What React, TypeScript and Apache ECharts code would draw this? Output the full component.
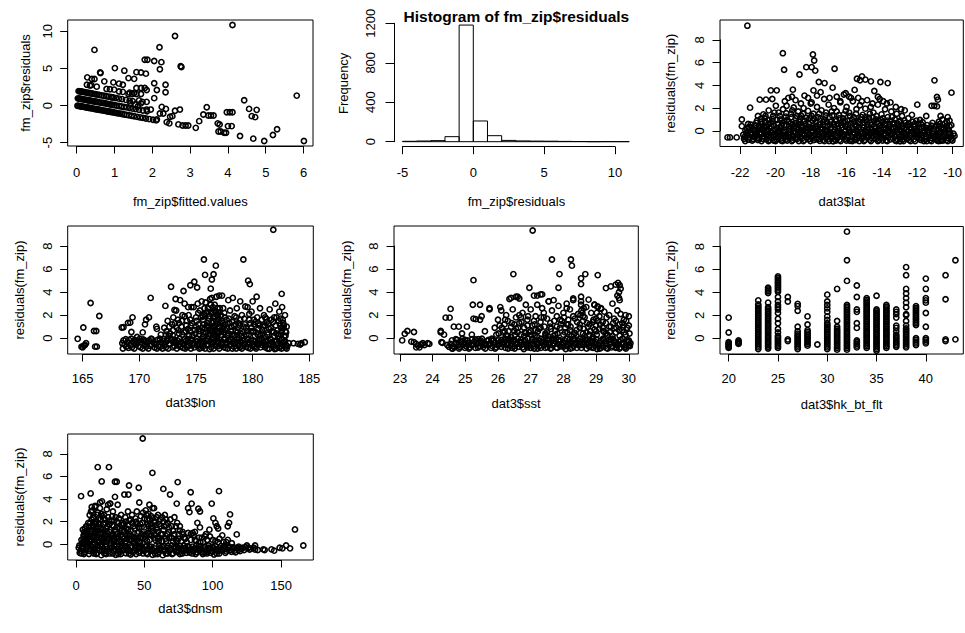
import React, { useEffect, useRef } from "react";
import * as echarts from "echarts";

// ---------- fm_zip$fitted.values vs fm_zip$residuals ----------
const fitBandZero: number[][] = [
  [0.02,-0.02],[0.05,-0.05],[0.08,-0.08],[0.1,-0.1],[0.13,-0.12],[0.16,-0.15],[0.19,-0.18],[0.22,-0.21],[0.25,-0.24],
  [0.28,-0.27],[0.31,-0.29],[0.34,-0.32],[0.37,-0.35],[0.4,-0.38],[0.44,-0.42],[0.48,-0.46],[0.52,-0.49],[0.56,-0.53],
  [0.6,-0.57],[0.64,-0.61],[0.68,-0.65],[0.72,-0.68],[0.76,-0.72],[0.8,-0.76],[0.84,-0.8],[0.88,-0.84],[0.92,-0.87],
  [0.96,-0.91],[1.0,-0.95],[1.05,-1.0],[1.1,-1.05],[1.15,-1.09],[1.2,-1.14],[1.26,-1.2],[1.32,-1.25],[1.38,-1.31],
  [1.45,-1.38],[1.52,-1.44],[1.6,-1.52],[1.68,-1.6],[1.75,-1.66],[1.83,-1.74],[1.92,-1.82],[2.02,-1.92],[2.1,-2.0]
];
const fitBandOne: number[][] = [
  [0.03,0.97],[0.06,0.94],[0.09,0.91],[0.12,0.89],[0.15,0.86],[0.18,0.83],[0.21,0.8],[0.24,0.77],[0.27,0.74],[0.3,0.72],
  [0.33,0.69],[0.36,0.66],[0.4,0.62],[0.44,0.58],[0.48,0.54],[0.52,0.51],[0.56,0.47],[0.6,0.43],[0.65,0.38],[0.7,0.34],
  [0.75,0.29],[0.8,0.24],[0.85,0.19],[0.9,0.15],[0.95,0.1],[1.0,0.05],[1.06,-0.01],[1.12,-0.06],[1.18,-0.12],[1.25,-0.19],
  [1.32,-0.25],[1.4,-0.33],[1.48,-0.41],[1.56,-0.48],[1.65,-0.57],[1.75,-0.66],[1.86,-0.77]
];
const fitBandTwo: number[][] = [
  [0.05,1.95],[0.08,1.92],[0.11,1.9],[0.14,1.87],[0.17,1.84],[0.2,1.81],[0.24,1.77],[0.28,1.73],[0.32,1.7],[0.36,1.66],
  [0.4,1.62],[0.45,1.57],[0.5,1.52],[0.55,1.48],[0.6,1.43],[0.66,1.37],[0.72,1.32],[0.78,1.26],[0.84,1.2],[0.9,1.15],
  [0.97,1.08],[1.04,1.01],[1.12,0.94],[1.2,0.86],[1.3,0.77],[1.4,0.67],[1.48,0.6]
];
const fitScatter: number[][] = [
  [0.28,3.8],[0.4,3.58],[0.47,3.58],[0.47,7.5],[0.63,4.38],[0.27,2.8],[0.39,2.75],[0.53,2.55],[0.73,3.26],[1.01,5.05],
  [0.97,3.13],[1.12,2.95],[1.22,2.8],[1.26,4.7],[1.37,3.7],[1.52,3.6],[1.58,4.5],[1.7,4.45],[1.83,4.3],[0.79,2.24],
  [0.88,2.2],[0.99,2.14],[1.12,1.9],[1.22,1.85],[1.4,1.75],[1.52,1.7],[1.58,2.37],[1.7,2.37],[1.8,2.37],[1.58,1.56],
  [1.7,1.56],[1.85,2.1],[1.65,0.7],[1.74,0.5],[1.85,0.5],[2.05,3.0],[2.12,2.1],[2.05,1.0],[1.85,-0.54],[1.96,-0.54],
  [2.25,-0.18],[2.36,-0.45],[2.2,-1.07],[2.29,-1.07],[2.47,-1.5],[2.6,-0.7],[2.45,-2.4],[2.19,7.86],[2.6,9.38],[2.75,5.3],
  [2.77,5.2],[1.8,6.17],[1.87,6.17],[2.05,6.0],[2.24,5.85],[2.2,4.9],[2.35,2.8],[2.35,1.8],[2.12,-1.87],[2.38,-2.23],
  [2.69,-2.54],[2.8,-2.68],[2.88,-2.68],[2.95,-2.68],[3.15,-3.0],[3.24,-2.1],[3.35,-1.2],[3.44,-0.22],[3.48,-1.34],
  [3.55,-1.34],[3.62,-1.34],[3.73,-2.4],[3.78,-2.55],[3.75,-3.5],[3.81,-3.5],[3.9,-3.66],[3.95,-3.66],[3.97,-0.9],
  [4.05,-0.9],[4.12,-0.9],[4.0,-2.77],[4.1,-2.77],[4.12,10.85],[4.32,-4.1],[4.43,0.71],[4.56,-0.45],[4.63,-1.43],
  [4.72,-1.56],[4.76,-0.58],[4.67,-4.46],[4.96,-4.78],[5.19,-3.97],[5.3,-3.2],[5.82,1.34],[6.01,-4.78],[0.93,1.1],
  [1.37,1.56],[1.47,1.56],[2.73,-0.54],[2.53,-1.43],[1.42,0.35],[1.55,0.15],[1.62,-0.1],[1.7,0.3],[0.35,2.7],[0.62,4.46]
];

// ---------- histogram of fm_zip$residuals ----------
const histBreaks = [-5, -4, -3, -2, -1, 0, 1, 2, 3, 4, 5, 6, 7, 8, 9, 10, 11];
const histCounts = [4, 7, 11, 51, 1182, 210, 61, 13, 8, 6, 5, 3, 2, 0, 1, 1];

// ---------- dat3$lat vs residuals(fm_zip) ----------
const latBand: number[][] = [
  [-21.82,-0.35],[-21.74,-0.52],[-21.58,-0.42],[-21.45,-0.6],[-21.33,-0.3],[-21.2,-0.55],[-21.06,-0.4],[-20.93,-0.68],
  [-20.8,-0.28],[-20.66,-0.5],[-20.52,-0.75],[-20.4,-0.36],[-20.27,-0.58],[-20.12,-0.85],[-19.99,-0.3],[-19.86,-0.5],
  [-19.72,-0.68],[-19.6,-0.38],[-19.46,-0.58],[-19.33,-0.25],[-19.2,-0.62],[-19.06,-0.42],[-18.93,-0.7],[-18.8,-0.32],
  [-18.66,-0.52],[-18.53,-0.66],[-18.4,-0.35],[-18.26,-0.55],[-18.13,-0.28],[-18.0,-0.62],[-17.86,-0.45],[-17.73,-0.72],
  [-17.6,-0.33],[-17.46,-0.56],[-17.33,-0.4],[-17.2,-0.66],[-17.06,-0.3],[-16.93,-0.52],[-16.8,-0.92],[-16.66,-0.38],
  [-16.53,-0.6],[-16.4,-0.26],[-16.26,-0.5],[-16.13,-0.7],[-16.0,-0.36],[-15.86,-0.88],[-15.73,-0.55],[-15.6,-0.3],
  [-15.46,-0.62],[-15.33,-0.42],[-15.2,-0.7],[-15.06,-0.34],[-14.93,-0.55],[-14.8,-0.25],[-14.66,-0.62],[-14.53,-0.44],
  [-14.4,-0.72],[-14.26,-0.3],[-14.13,-0.52],[-14.0,-0.66],[-13.86,-0.38],[-13.73,-0.58],[-13.6,-0.28],[-13.46,-0.64],
  [-13.33,-0.46],[-13.2,-0.74],[-13.06,-0.92],[-12.93,-0.36],[-12.8,-0.56],[-12.66,-0.7],[-12.53,-0.4],[-12.4,-0.6],
  [-12.26,-0.3],[-12.13,-0.52],[-12.0,-0.68],[-11.86,-0.4],[-11.73,-0.9],[-11.6,-0.56],[-11.46,-0.36],[-11.33,-0.62],
  [-11.2,-0.45],[-11.06,-0.7],[-10.93,-0.32],[-10.8,-0.88],[-10.66,-0.55],[-10.53,-0.4],[-10.4,-0.62],[-10.26,-0.5],
  [-10.13,-0.6],[-10.02,-0.45]
];
const latBandUpper: number[][] = [
  [-21.78,-0.7],[-21.65,-0.2],[-21.52,-0.78],[-21.39,-0.15],[-21.26,-0.72],[-21.13,-0.18],[-21.0,-0.82],[-20.87,-0.12],
  [-20.74,-0.7],[-20.61,-0.22],[-20.48,-0.1],[-20.35,-0.8],[-20.22,-0.15],[-20.09,-0.55],[-19.96,-0.75],[-19.83,-0.15],
  [-19.7,-0.85],[-19.57,-0.2],[-19.44,-0.75],[-19.31,-0.55],[-19.18,-0.12],[-19.05,-0.8],[-18.92,-0.2],[-18.79,-0.7],
  [-18.66,-0.15],[-18.53,-0.3],[-18.4,-0.8],[-18.27,-0.18],[-18.14,-0.72],[-18.01,-0.12],[-17.88,-0.82],[-17.75,-0.2],
  [-17.62,-0.74],[-17.49,-0.15],[-17.36,-0.8],[-17.23,-0.1],[-17.1,-0.75],[-16.97,-0.2],[-16.84,-0.5],[-16.71,-0.78],
  [-16.58,-0.15],[-16.45,-0.8],[-16.32,-0.18],[-16.19,-0.32],[-16.06,-0.85],[-15.93,-0.12],[-15.8,-0.75],[-15.67,-0.15],
  [-15.54,-0.82],[-15.41,-0.2],[-15.28,-0.1],[-15.15,-0.5],[-15.02,-0.8],[-14.89,-0.15],[-14.76,-0.78],[-14.63,-0.22],
  [-14.5,-0.12],[-14.37,-0.5],[-14.24,-0.8],[-14.11,-0.18],[-13.98,-0.35],[-13.85,-0.82],[-13.72,-0.15],[-13.59,-0.75],
  [-13.46,-0.2],[-13.33,-0.85],[-13.2,-0.15],[-13.07,-0.5],[-12.94,-0.78],[-12.81,-0.2],[-12.68,-0.12],[-12.55,-0.8],
  [-12.42,-0.22],[-12.29,-0.75],[-12.16,-0.15],[-12.03,-0.35],[-11.9,-0.82],[-11.77,-0.2],[-11.64,-0.72],[-11.51,-0.15],
  [-11.38,-0.8],[-11.25,-0.22],[-11.12,-0.5],[-10.99,-0.85],[-10.86,-0.15],[-10.73,-0.75],[-10.6,-0.25],[-10.47,-0.8],
  [-10.34,-0.3],[-10.21,-0.75],[-10.08,-0.25]
];
const latBandLower: number[][] = [
  [-21.71,-0.9],[-21.58,-0.1],[-21.45,-0.25],[-21.32,-0.85],[-21.19,-0.05],[-21.06,-0.65],[-20.93,-0.2],[-20.8,-0.9],
  [-20.67,-0.05],[-20.54,-0.3],[-20.41,-0.9],[-20.28,-0.1],[-20.15,-0.35],[-20.02,-0.9],[-19.89,-0.05],[-19.76,-0.3],
  [-19.63,-0.9],[-19.5,-0.1],[-19.37,-0.85],[-19.24,-0.35],[-19.11,-0.9],[-18.98,-0.05],[-18.85,-0.55],[-18.72,-0.9],
  [-18.59,-0.1],[-18.46,-0.9],[-18.33,-0.05],[-18.2,-0.35],[-18.07,-0.9],[-17.94,-0.1],[-17.81,-0.3],[-17.68,-0.05],
  [-17.55,-0.88],[-17.42,-0.25],[-17.29,-0.9],[-17.16,-0.05],[-17.03,-0.9],[-16.9,-0.3],[-16.77,-0.1],[-16.64,-0.85],
  [-16.51,-0.05],[-16.38,-0.9],[-16.25,-0.3],[-16.12,-0.05],[-15.99,-0.6],[-15.86,-0.05],[-15.73,-0.9],[-15.6,-0.75],
  [-15.47,-0.05],[-15.34,-0.9],[-15.21,-0.25],[-15.08,-0.9],[-14.95,-0.05],[-14.82,-0.45],[-14.69,-0.9],[-14.56,-0.05],
  [-14.43,-0.3],[-14.3,-0.9],[-14.17,-0.05],[-14.04,-0.85],[-13.91,-0.2],[-13.78,-0.9],[-13.65,-0.05],[-13.52,-0.35],
  [-13.39,-0.1],[-13.26,-0.9],[-13.13,-0.3],[-13.0,-0.05],[-12.87,-0.9],[-12.74,-0.35],[-12.61,-0.05],[-12.48,-0.9],
  [-12.35,-0.1],[-12.22,-0.9],[-12.09,-0.05],[-11.96,-0.3],[-11.83,-0.65],[-11.7,-0.05],[-11.57,-0.9],[-11.44,-0.1],
  [-11.31,-0.9],[-11.18,-0.05],[-11.05,-0.35],[-10.92,-0.9],[-10.79,-0.1],[-10.66,-0.85],[-10.53,-0.05],[-10.4,-0.9],
  [-10.27,-0.15],[-10.14,-0.85]
];
const latCloud: number[][] = [
  [-21.7,0.05],[-21.5,0.35],[-21.25,0.15],[-21.1,0.7],[-21.0,1.3],[-20.95,0.45],[-20.85,1.05],[-20.75,0.2],[-20.7,1.45],
  [-20.6,0.75],[-20.5,0.1],[-20.4,1.8],[-20.35,0.95],[-20.25,0.4],[-20.15,1.3],[-20.05,0.1],[-20.0,2.2],[-19.9,0.6],
  [-19.85,1.6],[-19.75,1.0],[-19.7,0.25],[-19.6,1.9],[-19.55,0.5],[-19.45,1.25],[-19.4,2.2],[-19.3,0.8],[-19.2,0.15],
  [-19.15,1.5],[-19.05,0.55],[-19.0,2.05],[-18.9,1.1],[-18.85,0.3],[-18.75,1.7],[-18.7,0.8],[-18.6,1.35],[-18.5,0.1],
  [-18.45,2.0],[-18.35,0.6],[-18.3,1.15],[-18.2,1.75],[-18.1,0.35],[-18.05,2.4],[-17.95,0.9],[-17.9,1.5],[-17.8,0.2],
  [-17.7,2.1],[-17.65,1.2],[-17.55,0.55],[-17.45,1.8],[-17.4,0.15],[-17.3,1.0],[-17.2,1.6],[-17.1,0.4],[-17.05,2.3],
  [-16.95,0.8],[-16.85,1.35],[-16.75,2.0],[-16.7,0.1],[-16.6,1.7],[-16.55,0.6],[-16.45,1.1],[-16.4,2.5],[-16.3,0.3],
  [-16.2,1.45],[-16.15,0.9],[-16.05,2.1],[-15.95,0.2],[-15.9,1.6],[-15.8,0.65],[-15.7,2.6],[-15.65,1.2],[-15.55,0.4],
  [-15.5,1.9],[-15.4,0.9],[-15.3,2.25],[-15.25,0.15],[-15.15,1.4],[-15.05,0.7],[-15.0,1.95],[-14.9,0.3],[-14.8,1.15],
  [-14.7,2.1],[-14.65,0.55],[-14.55,1.6],[-14.45,0.2],[-14.4,1.0],[-14.3,2.3],[-14.2,0.45],[-14.1,1.45],[-14.0,0.8],
  [-13.9,1.9],[-13.85,0.15],[-13.75,1.2],[-13.65,0.6],[-13.55,1.7],[-13.45,0.3],[-13.35,1.0],[-13.25,1.5],[-13.15,0.45],
  [-13.05,0.9],[-12.95,1.3],[-12.85,0.2],[-12.75,0.7],[-12.6,1.1],[-12.5,0.35],[-12.35,0.8],[-12.2,0.15],[-12.05,0.6],
  [-11.95,0.95],[-11.85,0.3],[-11.7,0.05],[-11.55,0.5],[-11.4,0.2],[-11.25,0.7],[-11.1,0.35],[-10.95,0.05],[-10.85,0.6],
  [-10.7,1.0],[-10.6,0.25],[-10.45,0.8],[-10.35,0.1],[-10.2,0.5],
  [-21.6,0.2],[-21.4,0.55],[-21.2,0.05],[-21.05,0.9],[-20.9,0.25],[-20.78,0.6],[-20.62,1.1],[-20.55,0.35],[-20.45,0.05],
  [-20.3,0.7],[-20.2,1.05],[-20.1,0.45],[-19.95,0.95],[-19.8,0.3],[-19.65,0.7],[-19.5,0.05],[-19.38,0.95],[-19.25,0.4],
  [-19.12,1.2],[-19.0,0.25],[-18.88,0.7],[-18.78,0.05],[-18.65,1.05],[-18.55,0.45],[-18.42,0.85],[-18.25,0.1],[-18.15,0.6],
  [-18.0,1.3],[-17.92,0.25],[-17.78,0.75],[-17.62,0.0],[-17.5,1.05],[-17.38,0.5],[-17.25,0.1],[-17.15,0.75],[-17.0,1.2],
  [-16.9,0.3],[-16.78,0.6],[-16.65,1.0],[-16.5,0.2],[-16.38,0.7],[-16.25,1.1],[-16.12,0.4],[-16.0,0.9],[-15.88,0.1],
  [-15.75,1.0],[-15.6,0.55],[-15.48,0.0],[-15.35,0.75],[-15.22,1.2],[-15.1,0.3],[-14.95,0.95],[-14.85,0.05],[-14.72,0.7],
  [-14.6,1.2],[-14.5,0.4],[-14.35,0.75],[-14.25,0.05],[-14.12,0.95],[-13.98,0.3],[-13.88,0.6],[-13.7,0.05],[-13.6,0.9],
  [-13.48,0.6],[-13.3,0.25],[-13.2,0.65],[-13.1,0.1],[-12.9,0.45],[-12.7,0.1],[-12.55,0.6],[-12.3,0.4],[-12.15,0.9],
  [-11.9,0.6],[-11.75,0.35],[-11.5,0.05],[-11.3,0.45],[-11.0,0.5],[-10.75,0.3],[-10.55,0.65],[-10.3,0.4]
];
const latCloudDense: number[][] = [
  [-21.55,0.6],[-21.35,0.3],[-21.15,0.45],[-20.98,0.1],[-20.82,0.8],[-20.68,0.4],[-20.58,1.3],[-20.42,0.6],[-20.32,0.2],
  [-20.18,0.85],[-20.08,1.6],[-19.92,0.2],[-19.78,1.3],[-19.68,0.45],[-19.52,0.85],[-19.42,1.55],[-19.28,0.15],[-19.18,0.65],
  [-19.08,1.8],[-18.95,0.45],[-18.82,1.3],[-18.72,0.55],[-18.58,0.3],[-18.48,1.5],[-18.38,0.9],[-18.22,0.35],[-18.12,1.1],
  [-17.98,0.05],[-17.85,1.05],[-17.72,0.45],[-17.58,1.5],[-17.48,0.3],[-17.35,0.8],[-17.22,1.35],[-17.12,0.1],[-16.98,0.55],
  [-16.88,1.7],[-16.72,0.35],[-16.62,0.85],[-16.48,1.4],[-16.35,0.5],[-16.22,0.75],[-16.1,1.75],[-15.98,0.55],[-15.85,1.3],
  [-15.72,0.3],[-15.62,0.8],[-15.52,1.5],[-15.38,0.25],[-15.28,1.0],[-15.12,0.5],[-15.0,1.2],[-14.88,0.6],[-14.75,1.5],
  [-14.62,0.1],[-14.52,0.85],[-14.38,1.3],[-14.28,0.65],[-14.15,0.2],[-14.02,1.1],[-13.92,0.5],[-13.8,0.9],[-13.68,0.3],
  [-13.52,1.2],[-13.4,0.7],[-13.28,0.05],[-13.12,0.8],[-12.98,0.3],[-12.82,0.9],[-12.65,0.5],[-12.45,0.1],[-12.25,0.6],
  [-12.0,0.3],[-11.8,0.75],[-11.6,0.25],[-11.2,0.15],[-10.9,0.4],[-10.65,0.1],[-10.45,0.45]
];
const latUpper: number[][] = [
  [-21.59,9.25],[-19.61,6.83],[-19.54,5.37],[-17.93,6.72],[-17.86,6.19],[-18.0,5.6],[-17.8,5.3],[-18.3,5.6],[-18.68,4.96],
  [-16.72,5.46],[-17.6,4.29],[-17.28,4.2],[-16.83,3.8],[-15.47,4.58],[-15.19,4.79],[-15.3,4.45],[-15.0,4.5],[-14.69,4.35],
  [-14.16,4.29],[-13.75,4.2],[-11.14,4.44],[-10.19,3.36],[-11.0,2.98],[-10.95,2.74],[-11.3,2.2],[-11.15,2.2],[-11.0,2.15],
  [-21.44,2.04],[-21.9,1.0],[-21.9,0.41],[-22.7,-0.58],[-22.56,-0.58],[-22.19,-0.58],[-20.28,3.56],[-19.95,3.56],
  [-20.9,2.74],[-20.55,2.74],[-20.2,2.8],[-19.05,3.62],[-17.9,3.56],[-16.2,3.2],[-15.9,3.0],[-15.8,2.9],[-14.5,3.5],
  [-14.3,3.0],[-14.2,2.8],[-19.5,2.6],[-19.3,2.9],[-19.1,3.0],[-18.9,2.7],[-18.6,2.4],[-18.4,3.1],[-18.2,2.9],[-18.0,2.5],
  [-17.7,3.1],[-17.5,3.4],[-17.3,2.8],[-17.0,2.9],[-16.6,3.0],[-16.4,2.6],[-16.1,3.3],[-15.6,3.6],[-15.4,2.9],[-15.2,2.6],
  [-14.9,2.7],[-14.6,2.4],[-14.0,2.6],[-13.8,2.4],[-13.6,2.5],[-13.3,2.1],[-13.0,1.9],[-12.8,1.8],[-12.1,2.3],[-11.6,1.3],
  [-12.4,1.4],[-10.4,1.2],[-10.3,0.9],[-10.8,1.3],[-10.9,0.8]
];

// ---------- dat3$lon vs residuals(fm_zip) ----------
const lonBand: number[][] = [
  [168.5,-0.45],[168.7,-0.55],[168.95,-0.4],[169.2,-0.62],[169.45,-0.3],[169.7,-0.5],[169.95,-0.7],[170.2,-0.35],
  [170.45,-0.58],[170.7,-0.42],[170.95,-0.66],[171.2,-0.3],[171.45,-0.52],[171.7,-0.72],[171.95,-0.38],[172.2,-0.6],
  [172.45,-0.25],[172.7,-0.5],[172.95,-0.8],[173.2,-0.4],[173.45,-0.62],[173.7,-0.3],[173.95,-0.55],[174.2,-0.75],
  [174.45,-0.4],[174.7,-0.6],[174.95,-0.22],[175.2,-0.5],[175.45,-0.85],[175.7,-0.35],[175.95,-0.6],[176.2,-0.95],
  [176.45,-0.4],[176.7,-0.62],[176.95,-0.25],[177.2,-0.52],[177.45,-0.78],[177.7,-0.36],[177.95,-0.6],[178.2,-0.9],
  [178.45,-0.42],[178.7,-0.58],[178.95,-0.28],[179.2,-0.5],[179.45,-0.74],[179.7,-0.4],[179.95,-0.6],[180.2,-0.3],
  [180.45,-0.55],[180.7,-0.8],[180.95,-0.4],[181.2,-0.62],[181.45,-0.92],[181.7,-0.35],[181.95,-0.95],[182.2,-0.5],
  [182.45,-0.7],[182.7,-0.4],[182.95,-0.6],[183.2,-0.45],
  [169.6,-0.15],[170.3,-0.2],[171.1,-0.1],[171.8,-0.2],[172.5,-0.05],[173.1,-0.15],[173.6,-0.75],[174.0,-0.1],
  [174.6,-0.2],[175.1,-0.65],[175.6,-0.1],[176.0,-0.25],[176.6,-0.1],[177.0,-0.7],[177.5,-0.15],[178.0,-0.3],
  [178.6,-0.1],[179.1,-0.7],[179.6,-0.15],[180.1,-0.75],[180.6,-0.1],[181.1,-0.3],[181.6,-0.15],[182.1,-0.2],
  [182.6,-0.1],[182.9,-0.8]
];
const lonBandUpper: number[][] = [
  [168.6,-0.2],[168.85,-0.75],[169.1,-0.15],[169.35,-0.8],[169.6,-0.55],[169.85,-0.25],[170.1,-0.8],[170.35,-0.12],
  [170.6,-0.75],[170.85,-0.2],[171.1,-0.55],[171.35,-0.82],[171.6,-0.15],[171.85,-0.75],[172.1,-0.22],[172.35,-0.8],
  [172.6,-0.55],[172.85,-0.15],[173.1,-0.7],[173.35,-0.2],[173.6,-0.5],[173.85,-0.85],[174.1,-0.25],[174.35,-0.7],
  [174.6,-0.12],[174.85,-0.8],[175.1,-0.3],[175.35,-0.6],[175.6,-0.78],[175.85,-0.2],[176.1,-0.55],[176.35,-0.8],
  [176.6,-0.3],[176.85,-0.7],[177.1,-0.15],[177.35,-0.6],[177.6,-0.85],[177.85,-0.2],[178.1,-0.55],[178.35,-0.75],
  [178.6,-0.3],[178.85,-0.8],[179.1,-0.2],[179.35,-0.55],[179.6,-0.85],[179.85,-0.2],[180.1,-0.5],[180.35,-0.75],
  [180.6,-0.25],[180.85,-0.6],[181.1,-0.8],[181.35,-0.2],[181.6,-0.55],[181.85,-0.75],[182.1,-0.3],[182.35,-0.85],
  [182.6,-0.55],[182.85,-0.25],[183.05,-0.7]
];
const lonBandLower: number[][] = [
  [168.55,-0.9],[168.8,-0.1],[169.05,-0.85],[169.3,-0.05],[169.55,-0.9],[169.8,-0.4],[170.05,-0.05],[170.3,-0.9],
  [170.55,-0.25],[170.8,-0.9],[171.05,-0.05],[171.3,-0.45],[171.55,-0.9],[171.8,-0.05],[172.05,-0.9],[172.3,-0.35],
  [172.55,-0.9],[172.8,-0.05],[173.05,-0.3],[173.3,-0.9],[173.55,-0.05],[173.8,-0.45],[174.05,-0.9],[174.3,-0.1],
  [174.55,-0.9],[174.8,-0.45],[175.05,-0.05],[175.3,-0.9],[175.55,-0.25],[175.8,-0.9],[176.05,-0.05],[176.3,-0.35],
  [176.55,-0.9],[176.8,-0.05],[177.05,-0.9],[177.3,-0.3],[177.55,-0.05],[177.8,-0.9],[178.05,-0.1],[178.3,-0.4],
  [178.55,-0.9],[178.8,-0.05],[179.05,-0.9],[179.3,-0.2],[179.55,-0.05],[179.8,-0.9],[180.05,-0.2],[180.3,-0.9],
  [180.55,-0.45],[180.8,-0.05],[181.05,-0.55],[181.3,-0.9],[181.55,-0.05],[181.8,-0.6],[182.05,-0.9],[182.3,-0.05],
  [182.55,-0.9],[182.8,-0.3],[183.0,-0.9]
];
const lonEdge: number[][] = [
  [183.6,-0.44],[184.0,-0.5],[184.3,-0.45],[184.6,-0.36],[184.2,-0.55],
  [164.56,-0.06],[164.9,-0.75],[165.0,-0.8],[165.06,0.92],[165.2,-0.6],[165.3,-0.44],[165.1,-0.65],[165.7,3.05],
  [166.0,0.62],[166.2,0.62],[166.1,-0.74],[166.25,-0.74],[166.47,1.92]
];
const lonCloud: number[][] = [
  [168.45,0.92],[168.6,0.95],[169.0,1.33],[169.2,1.35],[169.4,1.8],[169.3,0.53],[169.8,0.1],[170.3,0.5],[170.5,1.2],
  [170.6,1.6],[170.85,1.8],[171.0,3.5],[171.5,1.0],[171.55,0.8],[171.9,0.3],[172.3,2.8],[172.4,0.6],[172.6,0.2],[172.8,4.47],
  [172.9,1.2],[173.0,0.7],[173.1,2.45],[173.25,2.4],[173.2,3.4],[173.4,1.6],[173.5,0.4],[173.6,3.3],[173.7,1.0],
  [173.8,2.0],[173.9,4.1],[174.0,3.0],[174.1,0.6],[174.2,1.5],[174.3,2.7],[174.4,0.25],[174.5,4.6],[174.55,1.1],
  [174.6,2.7],[174.8,2.7],[174.85,4.9],[174.9,0.7],[175.0,1.8],[175.1,4.4],[175.15,3.0],[175.2,1.2],[175.3,0.35],
  [175.35,2.4],[175.5,3.2],[175.55,0.9],[175.6,1.6],[175.7,6.84],[175.75,2.1],[175.8,5.5],[175.85,3.1],[175.9,0.5],
  [176.0,1.3],[176.05,2.6],[176.1,0.2],[176.2,1.9],[176.25,3.4],[176.3,4.3],[176.35,0.8],[176.4,5.1],[176.45,2.3],
  [176.5,1.5],[176.55,5.55],[176.6,0.4],[176.65,2.9],[176.7,1.1],[176.75,6.3],[176.8,3.6],[176.85,2.0],[176.9,0.6],
  [177.0,1.7],[177.05,3.7],[177.1,2.6],[177.2,0.3],[177.3,3.7],[177.35,1.3],[177.5,2.2],[177.6,0.7],[177.7,1.6],
  [177.85,3.3],[177.9,0.4],[178.0,2.4],[178.1,1.0],[178.25,3.5],[178.3,0.2],[178.4,1.9],[178.5,0.6],[178.6,2.6],
  [178.75,1.3],[178.9,3.2],[178.95,0.4],[179.05,2.0],[179.18,6.84],[179.2,1.0],[179.35,2.75],[179.45,0.3],[179.55,2.7],
  [179.6,5.0],[179.7,1.6],[179.75,4.7],[179.85,0.6],[179.9,2.3],[180.0,3.2],[180.1,1.2],[180.2,0.2],[180.35,3.6],
  [180.4,1.8],[180.5,0.8],[180.65,2.6],[180.8,1.6],[180.9,0.4],[181.0,2.0],[181.1,1.1],[181.2,1.7],[181.35,0.5],
  [181.5,2.5],[181.6,0.9],[181.82,9.42],[181.8,1.4],[181.9,0.2],[182.0,3.0],[182.1,1.8],[182.2,0.7],[182.35,2.3],
  [182.4,1.2],[182.5,0.3],[182.56,3.85],[182.6,2.7],[182.65,1.6],[182.7,0.9],[182.8,0.2],[182.85,2.0],[182.95,0.5],
  [175.6,0.1],[175.9,2.2],[176.1,1.0],[176.3,2.9],[176.5,0.6],[176.7,1.8],[176.9,2.6],[177.1,0.9],[177.3,1.5],
  [176.4,3.5],[176.8,0.2],[177.0,2.2],[175.7,1.2],[176.2,0.4],[176.6,2.4],[177.4,0.5],
  [172.2,0.9],[172.5,1.5],[172.7,0.4],[173.0,1.8],[173.3,0.9],[173.5,1.3],[173.8,0.3],[174.0,1.9],[174.3,0.8],[174.5,1.6],
  [174.7,0.2],[175.0,1.0],[175.2,2.2],[175.4,0.6],[175.6,1.9],[175.8,0.8],[176.0,2.3],[176.1,1.5],[176.3,0.6],[176.4,1.3],
  [176.5,2.7],[176.6,1.0],[176.7,0.3],[176.8,1.5],[176.9,2.0],[177.0,0.5],[177.1,1.3],[177.2,2.0],[177.3,0.8],[177.4,2.6],
  [177.6,1.2],[177.8,0.2],[177.9,1.7],[178.1,0.6],[178.2,1.4],[178.4,0.3],[178.5,1.2],[178.7,0.9],[178.9,1.6],[179.0,0.2],
  [179.3,1.2],[179.5,0.6],[179.7,2.1],[179.9,0.9],[180.1,1.6],[180.3,0.5],[180.5,1.3],[180.7,0.2],[180.9,1.0],[181.1,1.8],
  [181.3,0.3],[181.4,1.2],[181.7,0.6],[181.9,1.8],[182.1,0.4],[182.3,1.5],[182.5,0.9],[182.7,1.3],[182.9,0.2],[183.0,1.0]
];
const lonCloudDense: number[][] = [
  [172.35,0.3],[172.65,1.0],[172.95,0.25],[173.15,1.3],[173.45,0.7],[173.75,1.5],[173.95,0.5],[174.15,1.1],[174.35,2.0],
  [174.45,0.6],[174.65,1.3],[174.95,0.4],[175.05,1.5],[175.25,0.8],[175.45,1.8],[175.65,0.5],[175.75,2.6],[175.95,1.1],
  [176.15,1.7],[176.25,0.3],[176.35,2.2],[176.45,1.0],[176.55,1.8],[176.65,0.7],[176.75,2.3],[176.85,1.2],[176.95,0.4],
  [177.05,1.0],[177.15,1.9],[177.25,0.6],[177.45,1.0],[177.55,1.8],[177.75,0.9],[177.95,1.3],[178.15,0.3],[178.35,1.1],
  [178.55,1.8],[178.65,0.5],[178.85,1.1],[179.15,0.5],[179.25,1.7],[179.4,0.9],[179.65,0.3],[179.8,1.3],[180.05,0.6],
  [180.25,1.4],[180.45,0.3],[180.6,1.1],[180.85,0.7],[181.05,0.2],[181.25,1.4],[181.45,0.8],[181.65,1.6],[181.85,0.5],
  [182.05,1.1],[182.25,0.2],[182.45,1.7],[182.55,0.6],[182.75,1.1],[182.9,0.6]
];

// ---------- dat3$sst vs residuals(fm_zip) ----------
const sstBand: number[][] = [
  [24.55,-0.5],[24.63,-0.7],[24.71,-0.4],[24.79,-0.6],[24.87,-0.35],[24.95,-0.55],[25.03,-0.72],[25.11,-0.42],
  [25.19,-0.6],[25.27,-0.3],[25.35,-0.52],[25.43,-0.68],[25.51,-0.38],[25.59,-0.58],[25.67,-0.25],[25.75,-0.5],
  [25.83,-0.7],[25.91,-0.4],[25.99,-0.6],[26.07,-0.32],[26.15,-0.55],[26.23,-0.85],[26.31,-0.42],[26.39,-0.62],
  [26.47,-0.28],[26.55,-0.5],[26.63,-0.75],[26.71,-0.38],[26.79,-0.95],[26.87,-0.45],[26.95,-0.65],[27.03,-0.3],
  [27.11,-0.9],[27.19,-0.5],[27.27,-0.7],[27.35,-0.35],[27.43,-0.56],[27.51,-0.78],[27.59,-0.4],[27.67,-0.62],
  [27.75,-0.25],[27.83,-0.5],[27.91,-0.72],[27.99,-0.38],[28.07,-0.95],[28.15,-0.55],[28.23,-0.3],[28.31,-0.7],
  [28.39,-0.45],[28.47,-0.62],[28.55,-0.85],[28.63,-0.36],[28.71,-0.55],[28.79,-0.75],[28.87,-0.4],[28.95,-0.6],
  [29.03,-0.95],[29.11,-0.45],[29.19,-0.68],[29.27,-0.3],[29.35,-0.9],[29.43,-0.5],[29.51,-0.7],[29.59,-0.38],
  [29.67,-0.58],[29.75,-0.8],[29.83,-0.42],[29.91,-0.6],[29.99,-0.35],[30.05,-0.45],
  [25.0,-0.15],[25.4,-0.1],[25.8,-0.2],[26.1,-0.75],[26.3,-0.1],[26.5,-0.7],[26.7,-0.15],[26.9,-0.8],[27.05,-0.1],
  [27.25,-0.2],[27.45,-0.85],[27.65,-0.1],[27.85,-0.15],[28.0,-0.75],[28.2,-0.1],[28.35,-0.2],[28.5,-0.05],[28.7,-0.15],
  [28.85,-0.8],[29.0,-0.1],[29.15,-0.2],[29.3,-0.65],[29.45,-0.1],[29.6,-0.85],[29.75,-0.15],[29.9,-0.75],[30.0,-0.2]
];
const sstBandUpper: number[][] = [
  [24.59,-0.2],[24.67,-0.8],[24.75,-0.15],[24.83,-0.75],[24.91,-0.25],[24.99,-0.85],[25.07,-0.2],[25.15,-0.8],
  [25.23,-0.55],[25.31,-0.12],[25.39,-0.82],[25.47,-0.2],[25.55,-0.78],[25.63,-0.5],[25.71,-0.15],[25.79,-0.85],
  [25.87,-0.2],[25.95,-0.8],[26.03,-0.55],[26.11,-0.15],[26.19,-0.35],[26.27,-0.6],[26.35,-0.15],[26.43,-0.85],
  [26.51,-0.2],[26.59,-0.5],[26.67,-0.3],[26.75,-0.8],[26.83,-0.15],[26.91,-0.55],[26.99,-0.85],[27.07,-0.5],
  [27.15,-0.2],[27.23,-0.4],[27.31,-0.85],[27.39,-0.15],[27.47,-0.35],[27.55,-0.2],[27.63,-0.85],[27.71,-0.45],
  [27.79,-0.8],[27.87,-0.3],[27.95,-0.55],[28.03,-0.2],[28.11,-0.7],[28.19,-0.45],[28.27,-0.85],[28.35,-0.5],
  [28.43,-0.2],[28.51,-0.35],[28.59,-0.6],[28.67,-0.15],[28.75,-0.4],[28.83,-0.2],[28.91,-0.85],[28.99,-0.35],
  [29.07,-0.6],[29.15,-0.85],[29.23,-0.15],[29.31,-0.45],[29.39,-0.2],[29.47,-0.8],[29.55,-0.25],[29.63,-0.8],
  [29.71,-0.3],[29.79,-0.5],[29.87,-0.8],[29.95,-0.2],[30.03,-0.7]
];
const sstBandLower: number[][] = [
  [24.61,-0.9],[24.71,-0.1],[24.81,-0.9],[24.91,-0.05],[25.01,-0.4],[25.11,-0.9],[25.21,-0.1],[25.31,-0.85],[25.41,-0.35],
  [25.51,-0.05],[25.61,-0.9],[25.71,-0.6],[25.81,-0.05],[25.91,-0.9],[26.01,-0.2],[26.11,-0.45],[26.21,-0.05],[26.31,-0.9],
  [26.41,-0.15],[26.51,-0.9],[26.61,-0.05],[26.71,-0.6],[26.81,-0.3],[26.91,-0.05],[27.01,-0.85],[27.11,-0.3],[27.21,-0.9],
  [27.31,-0.05],[27.41,-0.6],[27.51,-0.1],[27.61,-0.9],[27.71,-0.05],[27.81,-0.85],[27.91,-0.2],[28.01,-0.45],[28.11,-0.05],
  [28.21,-0.9],[28.31,-0.1],[28.41,-0.85],[28.51,-0.6],[28.61,-0.05],[28.71,-0.9],[28.81,-0.3],[28.91,-0.05],[29.01,-0.5],
  [29.11,-0.9],[29.21,-0.05],[29.31,-0.85],[29.41,-0.35],[29.51,-0.05],[29.61,-0.55],[29.71,-0.9],[29.81,-0.05],[29.91,-0.9],
  [30.01,-0.6]
];
const sstLeft: number[][] = [
  [23.07,-0.2],[23.15,0.38],[23.23,0.62],[23.43,0.53],[23.43,-0.35],[23.5,-0.5],[23.55,-0.65],[23.65,-0.55],
  [23.75,-0.6],[23.85,-0.45],[23.9,-0.5],[23.5,-0.8],[23.6,-0.8],[23.35,-0.3],[23.7,-0.45],
  [24.25,0.62],[24.25,0.5],[24.27,-0.35],[24.3,-0.4],[24.45,-0.6],[24.5,-0.75],[24.6,-0.9],[24.35,0.3]
];
const sstCloud: number[][] = [
  [24.55,2.54],[24.4,1.78],[24.52,1.78],[24.65,1.0],[24.8,1.0],[25.05,1.0],[24.9,0.4],[25.2,0.3],[25.25,1.7],
  [25.32,1.65],[25.23,2.9],[25.45,2.9],[25.5,1.9],[25.45,1.6],[25.6,0.6],[25.74,2.6],[25.74,2.5],[25.9,0.9],[26.0,1.6],
  [26.07,2.7],[26.1,2.4],[26.15,0.5],[26.2,1.2],[26.25,2.0],[26.3,0.2],[26.35,3.4],[26.4,1.0],[26.45,2.5],[26.5,0.6],
  [26.55,1.8],[26.6,3.6],[26.65,1.3],[26.7,0.3],[26.75,2.2],[26.8,0.9],[26.85,2.9],[26.9,1.6],[26.95,0.5],[27.0,2.5],
  [27.05,1.1],[27.1,3.7],[27.12,0.2],[27.15,1.9],[27.2,2.9],[27.25,0.8],[27.3,1.4],[27.35,3.8],[27.4,2.2],[27.45,0.4],
  [27.5,1.7],[27.55,3.2],[27.6,1.0],[27.7,3.3],[27.65,2.4],[27.75,0.3],[27.8,1.9],[27.85,2.8],[27.9,0.9],[27.95,1.5],
  [28.0,2.2],[28.05,0.5],[28.1,3.0],[28.15,1.2],[28.2,2.5],[28.25,0.2],[28.3,3.3],[28.35,1.7],[28.4,0.7],[28.45,2.1],
  [28.5,1.2],[28.54,3.6],[28.54,3.2],[28.54,2.9],[28.55,2.4],[28.6,0.4],[28.65,1.8],[28.7,2.7],[28.75,1.0],[28.77,3.35],
  [28.8,0.3],[28.85,2.2],[28.9,1.4],[28.95,2.9],[29.0,0.6],[29.05,2.75],[29.1,1.9],[29.15,2.6],[29.2,0.9],[29.25,2.3],
  [29.3,1.3],[29.35,0.3],[29.4,2.0],[29.45,1.0],[29.5,3.0],[29.55,1.7],[29.6,0.5],[29.65,2.4],[29.7,3.5],[29.72,1.2],
  [29.75,2.1],[29.8,0.7],[29.85,1.6],[29.9,2.0],[29.95,0.9],[30.0,1.9],
  [25.95,0.3],[26.05,1.1],[26.2,0.6],[26.3,1.5],[26.4,0.1],[26.5,1.2],[26.6,0.5],[26.7,1.8],[26.8,0.2],[26.9,1.1],
  [27.0,0.6],[27.1,1.5],[27.2,0.1],[27.3,0.9],[27.4,1.8],[27.5,0.5],[27.6,1.3],[27.7,0.2],[27.8,1.0],[27.9,1.6],
  [28.0,0.3],[28.1,1.2],[28.2,0.7],[28.3,1.9],[28.4,0.2],[28.5,0.9],[28.6,1.5],[28.7,0.5],[28.8,1.2],[28.9,0.1],
  [29.0,1.7],[29.1,0.8],[29.2,1.4],[29.3,0.4],[29.4,1.0],[29.5,0.2],[29.6,1.5],[29.7,0.7],[29.8,1.3],[29.9,0.3],
  [30.0,1.1],[26.25,0.25],[26.55,0.85],[26.85,0.45],[27.15,0.7],[27.45,0.25],[27.75,0.65],[28.05,0.9],[28.35,0.45],
  [28.65,0.2],[28.95,0.75],[29.25,0.55],[29.55,0.85],[29.85,0.5]
];
const sstCloudDense: number[][] = [
  [26.02,0.4],[26.12,0.9],[26.22,1.6],[26.32,0.6],[26.42,1.3],[26.52,0.3],[26.62,0.9],[26.72,1.4],[26.82,0.5],[26.92,1.9],
  [27.02,0.3],[27.12,1.2],[27.22,0.6],[27.32,1.8],[27.42,1.0],[27.52,0.2],[27.62,0.8],[27.72,1.5],[27.82,0.4],[27.92,1.2],
  [28.02,1.8],[28.12,0.5],[28.22,1.0],[28.32,0.3],[28.42,1.4],[28.52,2.0],[28.62,0.8],[28.72,1.3],[28.82,0.6],[28.92,1.6],
  [29.02,0.3],[29.12,1.2],[29.22,0.6],[29.32,1.8],[29.42,0.5],[29.52,1.3],[29.62,0.9],[29.72,0.2],[29.82,1.0],[29.92,1.5],
  [30.02,0.4],[28.58,2.2],[28.6,1.9],[28.62,2.6],[29.02,2.2],[29.05,1.5],[29.0,1.1],[28.1,2.6],[28.15,1.6],[27.35,2.6],
  [26.65,2.0]
];
const sstUpper: number[][] = [
  [27.06,9.36],[27.65,6.84],[28.23,6.84],[28.26,6.3],[26.47,5.57],[27.88,5.57],[28.67,5.57],[29.05,5.48],[25.25,5.04],
  [28.54,5.2],[28.54,4.7],[26.96,4.38],[27.85,4.38],[29.3,4.35],[29.45,4.5],[29.6,4.65],[29.67,4.8],[29.72,4.6],
  [29.75,4.3],[29.7,4.0],[29.65,3.7],[29.72,3.3],[26.4,3.5],[26.55,3.6],[26.65,3.45],[27.2,3.7],[27.3,3.8],[27.55,3.2],
  [28.3,3.45],[28.95,2.9],[29.05,2.7],[29.15,2.55]
];

// ---------- dat3$hk_bt_flt vs residuals(fm_zip) ----------
const hkLevels = [20, 21, 23, 24, 25, 26, 27, 28, 29, 30, 31, 32, 33, 34, 35, 36, 37, 38, 39, 40, 42, 43];
const hkResiduals: number[][] = [
  [1.8, 0.5, -0.35, -0.45, -0.55, -0.65, -0.75, -0.85],
  [-0.2, -0.3, -0.4, -0.5],
  [3.3, 2.95, 2.8, 2.65, 2.5, 2.35, 2.2, 2.05, 1.9, 1.75, 1.6, 1.45, 1.3, 1.15, 1.0, 0.85, 0.7, 0.55, 0.4, 0.25, 0.1, -0.05, -0.2, -0.35, -0.5, -0.65, -0.8, -0.95],
  [4.4, 4.25, 4.1, 3.95, 3.1, 2.7, 2.55, 2.4, 2.25, 2.1, 1.95, 1.8, 1.65, 1.5, 1.35, 1.2, 1.05, 0.9, 0.75, 0.6, 0.45, 0.3, 0.15, 0.0, -0.15, -0.3, -0.45, -0.6, -0.75, -0.9],
  [5.4, 5.25, 5.1, 4.95, 4.8, 4.65, 4.5, 4.35, 4.2, 4.05, 3.6, 3.2, 2.9, 2.7, 2.5, 2.2, 1.7, 1.3, 0.8, 0.5, 0.2, 0.05, -0.1, -0.25, -0.4, -0.55, -0.7, -0.85],
  [3.6, 3.2, -0.1, -0.25],
  [3.0, 2.8, 2.4, 1.0, 0.6, 0.4, 0.25, 0.1, -0.05, -0.2, -0.35, -0.5, -0.65, -0.8, -0.95],
  [1.9, 1.2, 0.7, 0.55, 0.4, 0.25, 0.1, -0.05, -0.2, -0.35, -0.5, -0.65],
  [-0.55],
  [3.8, 3.2, 2.9, 2.6, 2.3, 1.9, 1.6, 1.3, 1.15, 1.0, 0.85, 0.7, 0.55, 0.4, 0.25, 0.1, -0.05, -0.2, -0.35, -0.5, -0.65, -0.8, -0.95],
  [4.3, 1.5, 1.0, 0.8, 0.65, 0.5, 0.35, 0.2, 0.05, -0.1, -0.25, -0.4, -0.55, -0.7, -0.85, -1.0],
  [9.3, 6.8, 5.0, 2.9, 2.75, 2.6, 2.45, 2.3, 2.15, 2.0, 1.85, 1.7, 1.55, 1.4, 1.25, 1.1, 0.95, 0.8, 0.65, 0.5, 0.35, 0.2, 0.05, -0.1, -0.25, -0.4, -0.55, -0.7, -0.85, -1.0],
  [4.6, 3.6, 2.5, 2.3, 1.3, 0.9, -0.2, -0.35, -0.5, -0.65, -0.8],
  [3.5, 3.35, 3.2, 3.05, 2.9, 2.75, 2.6, 2.45, 2.3, 2.15, 2.0, 1.85, 1.7, 1.55, 1.4, 1.25, 1.1, 0.95, 0.8, 0.65, 0.5, 0.35, 0.2, 0.05, -0.1, -0.25, -0.4, -0.55, -0.7, -0.85],
  [3.7, 2.5, 2.35, 2.2, 2.05, 1.9, 1.75, 1.6, 1.45, 1.3, 1.15, 1.0, 0.85, 0.7, 0.55, 0.4, 0.25, 0.1, -0.05, -0.2, -0.35, -0.5, -0.65, -0.8, -0.95, -1.1],
  [2.9, 2.75, 2.6, 2.45, 2.3, 2.15, 2.0, 1.85, 1.7, 1.55, 1.4, 1.25, 1.1, 0.95, 0.8, 0.65, 0.5, 0.35, 0.2, 0.05, -0.1, -0.25, -0.4, -0.55, -0.7, -0.85],
  [2.5, 2.3, 2.1, 1.8, 1.1, 0.9, 0.6, 0.3, 0.15, 0.0, -0.15, -0.3, -0.45, -0.6, -0.75],
  [6.2, 5.5, 4.3, 3.9, 3.5, 3.1, 2.7, 2.1, 2.0, 1.5, 1.1, 0.85, 0.7, 0.55, 0.4, 0.25, 0.1, -0.05, -0.2, -0.35, -0.5, -0.65, -0.8],
  [2.8, 2.65, 2.5, 2.35, 2.2, 2.05, 1.9, 1.75, 1.6, 1.45, 1.3, 1.15, 0.0, -0.15, -0.3, -0.45, -0.6],
  [5.2, 4.3, 3.5, 3.3, 3.1, 2.2, 1.0, 0.0, -0.15, -0.3, -0.45],
  [5.5, 3.4, -0.1, -0.25],
  [6.8, -0.1]
];

// ---------- dat3$dnsm vs residuals(fm_zip) ----------
const dnsmBand: number[][] = [
  [2,-0.3],[3.5,-0.55],[5,-0.4],[6.5,-0.7],[8,-0.3],[9.5,-0.85],[11,-0.45],[12.5,-0.62],[14,-0.3],[15.5,-0.75],
  [17,-0.5],[18.5,-0.95],[20,-0.35],[21.5,-0.6],[23,-0.42],[24.5,-0.8],[26,-0.3],[27.5,-0.55],[29,-0.92],[30.5,-0.4],
  [32,-0.65],[33.5,-0.3],[35,-0.5],[36.5,-0.78],[38,-0.38],[39.5,-0.6],[41,-0.25],[42.5,-0.5],[44,-0.85],[45.5,-0.4],
  [47,-0.62],[48.5,-0.32],[50,-0.55],[51.5,-0.75],[53,-0.4],[54.5,-0.6],[56,-0.92],[57.5,-0.35],[59,-0.55],[60.5,-0.7],
  [62,-0.38],[63.5,-0.95],[65,-0.5],[66.5,-0.3],[68,-0.62],[69.5,-0.45],[71,-0.78],[72.5,-0.35],[74,-0.55],[75.5,-0.68],
  [77,-0.4],[78.5,-0.58],[80,-0.3],[81.5,-0.5],[83,-0.72],[84.5,-0.4],[86,-0.6],[87.5,-0.85],[89,-0.38],[90.5,-0.55],
  [92,-0.7],[93.5,-0.35],[95,-0.52],[96.5,-0.65],[98,-0.4],[99.5,-0.58],[101,-0.9],[102.5,-0.45],[104,-0.6],[105.5,-0.35],
  [107,-0.55],[108.5,-0.42],[110,-0.62],[111.5,-0.3],[113,-0.5],[114.5,-0.4],[116,-0.55],[117.5,-0.35],[119,-0.48],[121,-0.4],
  [2.5,-0.1],[4,-0.8],[7,-0.15],[10,0.0],[13,-0.8],[16,-0.1],[19,-0.2],[22,-0.85],[25,-0.1],[28,-0.15],[31,-0.85],
  [34,-0.1],[37,-0.2],[40,-0.9],[43,-0.1],[46,-0.15],[49,-0.8],[52,-0.1],[55,-0.2],[58,-0.85],[61,-0.1],[64,-0.15],
  [67,-0.8],[70,-0.1],[73,-0.2],[76,-0.85],[79,-0.1],[82,-0.15],[85,-0.8],[88,-0.1],[91,-0.2],[94,-0.75],[97,-0.1],
  [100,-0.2],[103,-0.8],[106,-0.15],[109,-0.1]
];
const dnsmBandUpper: number[][] = [
  [2.75,-0.75],[4.25,-0.2],[5.75,-0.85],[7.25,-0.45],[8.75,-0.15],[10.25,-0.6],[11.75,-0.2],[13.25,-0.45],[14.75,-0.85],
  [16.25,-0.3],[17.75,-0.15],[19.25,-0.6],[20.75,-0.8],[22.25,-0.2],[23.75,-0.6],[25.25,-0.3],[26.75,-0.8],[28.25,-0.4],
  [29.75,-0.15],[31.25,-0.55],[32.75,-0.85],[34.25,-0.45],[35.75,-0.2],[37.25,-0.5],[38.75,-0.8],[40.25,-0.15],[41.75,-0.7],
  [43.25,-0.35],[44.75,-0.2],[46.25,-0.75],[47.75,-0.15],[49.25,-0.45],[50.75,-0.2],[52.25,-0.85],[53.75,-0.2],[55.25,-0.45],
  [56.75,-0.6],[58.25,-0.15],[59.75,-0.85],[61.25,-0.45],[62.75,-0.2],[64.25,-0.55],[65.75,-0.8],[67.25,-0.15],[68.75,-0.35],
  [70.25,-0.85],[71.75,-0.2],[73.25,-0.65],[74.75,-0.3],[76.25,-0.15],[77.75,-0.8],[79.25,-0.45],[80.75,-0.75],[82.25,-0.25],
  [83.75,-0.5],[85.25,-0.2],[86.75,-0.35],[88.25,-0.7],[89.75,-0.15],[91.25,-0.4],[92.75,-0.85],[94.25,-0.2],[95.75,-0.8],
  [97.25,-0.3],[98.75,-0.75],[100.25,-0.35],[101.75,-0.15],[103.25,-0.5],[104.75,-0.8],[106.25,-0.5],[107.75,-0.25],
  [109.25,-0.75],[110.75,-0.45],[112.25,-0.2],[113.75,-0.65],[115.25,-0.25],[116.75,-0.7],[118.25,-0.3],[120,-0.6]
];
const dnsmTail: number[][] = [
  [122,-0.3],[123,-0.5],[124,-0.25],[126,-0.3],[127,-0.45],[128,-0.38],[130,-0.3],[131,-0.45],[133,-0.5],[137,-0.44],
  [138,-0.5],[143,-0.44],[145,-0.55],[149,-0.3],[151,-0.35],[153.7,-0.1],[156.6,-0.35],[160.2,1.32],[166.3,-0.1],
  [119,-0.2],[125,-0.1],[131,-0.1]
];
const dnsmCloud: number[][] = [
  [4,0.4],[5,1.3],[5.5,0.8],[6.5,0.2],[7,1.0],[8,0.6],[9,1.9],[9.5,0.3],[10,2.6],[10.5,1.2],[11,2.9],[11.5,0.7],
  [12,3.0],[12.5,1.6],[13,2.3],[13.5,0.4],[14,3.3],[14.5,1.1],[15,2.0],[15.5,0.2],[16,2.8],[16.5,1.5],[17,0.6],
  [17.5,3.2],[18,2.2],[18.5,1.0],[19,3.8],[19.5,0.3],[20,1.8],[20.5,2.6],[21,0.8],[22,1.4],[22.5,3.1],[23,0.4],
  [24,2.1],[24.5,1.1],[25,3.6],[26,0.6],[26.5,1.7],[27,2.9],[28,0.2],[28.5,1.3],[29,2.4],[30,0.9],[30.5,3.5],[31,1.9],
  [32,0.4],[33,2.6],[33.5,1.2],[34,0.7],[35,1.8],[36,2.4],[36.5,0.3],[37,1.4],[38,2.9],[38.5,0.8],[39,2.1],[40,1.2],
  [40.5,0.4],[41,2.6],[42,1.6],[43,0.6],[44,2.0],[44.5,2.9],[45,1.0],[46,0.3],[47,1.8],[47.5,2.5],[48,0.9],[49,2.8],
  [50,1.5],[50.5,0.5],[51,3.0],[52,2.2],[52.5,1.0],[53,2.7],[54,0.4],[54.5,1.8],[55,2.5],[56,3.2],[56.5,1.2],[57,0.6],
  [58,2.0],[59,1.4],[60,2.6],[60.5,0.3],[61,1.8],[62,0.9],[63,2.4],[64,1.3],[65,2.6],[65.5,0.5],[66,1.7],[67,0.9],
  [68,1.5],[69,2.2],[70,0.6],[71,1.2],[72,2.4],[73,0.4],[74,1.9],[75,0.9],[76,1.6],[77,0.3],[78,1.1],[80,0.5],[82,1.0],
  [84,0.4],[86,0.8],[88,0.3],[90,0.6],[93,0.2],[96,0.4],[98,0.7],[102,0.3],[105,0.5],[108,0.2],[111,0.4],[114,0.1],
  [4.5,0.1],[5.5,0.5],[6,1.1],[7,0.3],[7.5,1.6],[8.5,0.9],[9,0.1],[10,0.7],[10.5,1.9],[11,0.4],[12,1.3],[12.5,2.4],
  [13,0.8],[14,0.1],[14.5,1.8],[15,0.6],[16,1.2],[16.5,2.3],[17,0.2],[18,1.5],[18.5,0.5],[19,2.5],[20,1.0],[21,0.3],
  [21.5,1.9],[22,0.8],[23,1.6],[23.5,2.4],[24,0.5],[25,1.3],[25.5,0.1],[26,2.1],[27,0.9],[27.5,1.6],[28,0.4],[29,1.1],
  [30,2.0],[30.5,0.2],[31,0.7],[32,1.4],[33,0.2],[34,1.9],[35,0.5],[35.5,1.2],[36,0.1],[37,0.8],[38,1.7],[39,0.4],
  [40,2.2],[41,0.7],[42,0.2],[43,1.4],[44,0.5],[45,1.8],[46,1.1],[47,0.2],[48,1.5],[49,0.6],[50,2.3],[51,0.9],[52,0.3],
  [53,1.6],[54,2.2],[55,0.8],[56,1.5],[57,2.0],[58,0.4],[59,2.4],[60,1.1],[61,0.6],[62,1.6],[63,0.3],[64,2.0],[66,0.3],
  [67,1.9],[68,0.6],[70,1.6],[72,0.9],[74,0.3],[76,1.2],[79,0.6],[81,0.2],[84,0.9],[87,0.4],[91,0.2],[95,0.9],[100,0.4],
  [104,0.2],[107,0.8],[110,0.2]
];
const dnsmCloudDense: number[][] = [
  [5,0.2],[6,0.7],[6.5,1.4],[8,1.2],[8,0.2],[9.5,1.5],[10,0.4],[11,1.6],[11.5,2.2],[12.5,0.6],[13,1.9],[13.5,1.2],
  [15,1.4],[15.5,2.6],[16,0.4],[17,1.8],[17.5,1.0],[18.5,2.7],[19.5,1.3],[20,0.5],[21,2.2],[22,0.2],[22.5,1.1],[23.5,0.7],
  [24.5,1.8],[25.5,0.8],[26.5,2.5],[27.5,0.5],[28,2.1],[29.5,0.6],[30,1.5],[31.5,2.3],[32.5,0.8],[33.5,1.7],[35,1.1],
  [36.5,2.0],[37.5,0.5],[38,1.3],[39.5,0.9],[41,1.9],[42.5,0.5],[43.5,2.3],[45,0.4],[46,1.5],[47.5,0.6],[48.5,1.9],
  [50,0.8],[51.5,2.6],[52.5,1.8],[53.5,0.9],[55,1.4],[56,2.3],[57.5,0.9],[58.5,1.7],[60,0.5],[61.5,2.2],[63,0.9],
  [64.5,1.6],[66,2.2],[68,1.1],[71,0.3],[73,1.6],[75,0.5],[78,0.9]
];
const dnsmUpper: number[][] = [
  [48.8,9.35],[15.9,6.82],[24.1,6.82],[18.8,5.56],[28.5,5.53],[29.8,5.53],[55.9,6.32],[38.8,5.2],[45.9,5.0],[63.9,4.9],
  [74.4,5.5],[83.9,4.6],[104.6,4.7],[3.7,4.26],[10.7,4.5],[35.4,4.4],[38.3,4.4],[68.8,4.4],[53.7,3.5],[57.1,3.2],
  [46.3,3.7],[28.5,4.2],[24.9,3.6],[23.5,3.5],[17.6,3.7],[11.5,3.3],[13.9,3.4],[73.7,3.6],[82,3.2],[84.6,3.6],[83,2.85],
  [89.5,3.15],[90.7,2.9],[99.3,3.6],[100.5,2.3],[102,1.9],[103,1.6],[104,1.4],[112.7,2.65],[112,1.9],[111,1.6],
  [117.6,0.88],[88.8,1.9],[90.7,1.5],[85.4,1.0],[87,1.1],[92,0.6],[94.4,0.7],[97.6,1.3]
];

// ---------- layout ----------
const FONT = "'Liberation Sans', Arial, Helvetica, sans-serif";
const RESID_RANGE: [number, number] = [-1.38, 9.75];

type Box = { l: number; r: number; t: number; b: number };
type Frame = {
  box: Box;
  showBox: boolean;
  xr: [number, number];
  yr: [number, number];
  xt: [number, number, number];
  yt: [number, number, number];
  xName: string;
  yName: string;
  xNameGap: number;
  yNameGap: number;
  xLabelMargin: number;
  yLabelMargin: number;
  yTickLen: number;
};

function buildOption() {
  const grid: any[] = [];
  const xAxis: any[] = [];
  const yAxis: any[] = [];
  const series: any[] = [];
  const nameStyle = { color: "#000", fontSize: 13, fontFamily: FONT };
  const line = { color: "#000", width: 1 };
  const plain = (v: number) => String(v);

  const addFrame = (f: Frame) => {
    const { box } = f;
    const W = box.r - box.l;
    const H = box.b - box.t;
    const X = (v: number) => box.l + ((v - f.xr[0]) / (f.xr[1] - f.xr[0])) * W;
    const Y = (v: number) => box.b - ((v - f.yr[0]) / (f.yr[1] - f.yr[0])) * H;

    // plotting region with its frame and axis titles
    const gi = grid.length;
    grid.push({ left: box.l, top: box.t, width: W, height: H, show: f.showBox, borderColor: "#000", borderWidth: 1, backgroundColor: "transparent", containLabel: false });
    const xi = xAxis.length;
    const yi = yAxis.length;
    xAxis.push({
      gridIndex: gi, type: "value", min: f.xr[0], max: f.xr[1],
      axisLine: { show: false }, axisTick: { show: false }, axisLabel: { show: false }, splitLine: { show: false },
      name: f.xName, nameLocation: "middle", nameGap: f.xNameGap, nameTextStyle: nameStyle,
    });
    yAxis.push({
      gridIndex: gi, type: "value", min: f.yr[0], max: f.yr[1],
      axisLine: { show: false }, axisTick: { show: false }, axisLabel: { show: false }, splitLine: { show: false },
      name: f.yName, nameLocation: "middle", nameGap: f.yNameGap, nameTextStyle: nameStyle,
    });

    // axes spanning first to last tick, pushed onto the region's edges
    const tg = grid.length;
    const tl = X(f.xt[0]);
    const tr = X(f.xt[1]);
    const tt = Y(f.yt[1]);
    const tb = Y(f.yt[0]);
    grid.push({ left: tl, top: tt, width: tr - tl, height: tb - tt, show: false, containLabel: false });
    xAxis.push({
      gridIndex: tg, type: "value", position: "bottom", min: f.xt[0], max: f.xt[1], interval: f.xt[2],
      offset: box.b - tb,
      axisLine: { show: true, onZero: false, lineStyle: line },
      axisTick: { show: true, length: 7.5, lineStyle: line },
      axisLabel: { show: true, margin: f.xLabelMargin, color: "#000", fontSize: 13, fontFamily: FONT, formatter: plain },
      splitLine: { show: false },
    });
    yAxis.push({
      gridIndex: tg, type: "value", position: "left", min: f.yt[0], max: f.yt[1], interval: f.yt[2],
      offset: tl - box.l,
      axisLine: { show: true, onZero: false, lineStyle: line },
      axisTick: { show: true, length: f.yTickLen, lineStyle: line },
      axisLabel: { show: true, rotate: 90, margin: f.yLabelMargin, color: "#000", fontSize: 13, fontFamily: FONT, formatter: plain },
      splitLine: { show: false },
    });
    return { xi, yi };
  };

  const scatter = (ax: { xi: number; yi: number }, data: number[][]) => ({
    type: "scatter",
    xAxisIndex: ax.xi,
    yAxisIndex: ax.yi,
    data,
    symbol: "circle",
    symbolSize: 5.2,
    itemStyle: { color: "transparent", borderColor: "#000", borderWidth: 1.6, opacity: 1 },
    emphasis: { disabled: true },
    silent: true,
  });

  // 1: fitted vs residuals
  const p1 = addFrame({
    box: { l: 67.7, r: 313, t: 20, b: 146 }, showBox: true,
    xr: [-0.238, 6.25], yr: [-5.45, 11.53], xt: [0, 6, 1], yt: [-5, 10, 5],
    xName: "fm_zip$fitted.values", yName: "fm_zip$residuals",
    xNameGap: 49, yNameGap: 36, xLabelMargin: 19.5, yLabelMargin: 14, yTickLen: 7.5,
  });
  series.push(scatter(p1, [...fitBandZero, ...fitBandOne, ...fitBandTwo, ...fitScatter]));

  // 2: histogram
  const p2 = addFrame({
    box: { l: 394.5, r: 638.3, t: 20, b: 146.7 }, showBox: false,
    xr: [-5.56, 11.64], yr: [-50.7, 1233.4], xt: [-5, 10, 5], yt: [0, 1200, 400],
    xName: "fm_zip$residuals", yName: "Frequency",
    xNameGap: 48.5, yNameGap: 44.5, xLabelMargin: 19, yLabelMargin: 18, yTickLen: 9,
  });
  series.push({
    type: "custom",
    xAxisIndex: p2.xi,
    yAxisIndex: p2.yi,
    silent: true,
    data: histCounts.map((c, i) => [histBreaks[i], histBreaks[i + 1], c]),
    renderItem: (_params: any, api: any) => {
      const topLeft = api.coord([api.value(0), api.value(2)]);
      const bottomRight = api.coord([api.value(1), 0]);
      return {
        type: "rect",
        shape: { x: topLeft[0], y: topLeft[1], width: bottomRight[0] - topLeft[0], height: bottomRight[1] - topLeft[1] },
        style: { fill: "none", stroke: "#000", lineWidth: 1 },
      };
    },
  });

  // 3: lat
  const p3 = addFrame({
    box: { l: 720, r: 963.3, t: 20, b: 146.5 }, showBox: true,
    xr: [-23.12, -9.53], yr: RESID_RANGE, xt: [-22, -10, 2], yt: [0, 8, 2],
    xName: "dat3$lat", yName: "residuals(fm_zip)",
    xNameGap: 48.5, yNameGap: 43.5, xLabelMargin: 19.3, yLabelMargin: 14, yTickLen: 7.5,
  });
  series.push(scatter(p3, [...latBand, ...latBandUpper, ...latBandLower, ...latCloud, ...latCloudDense, ...latUpper]));

  // 4: lon
  const p4 = addFrame({
    box: { l: 67.7, r: 313.3, t: 226, b: 354 }, showBox: true,
    xr: [163.68, 185.35], yr: RESID_RANGE, xt: [165, 185, 5], yt: [0, 8, 2],
    xName: "dat3$lon", yName: "residuals(fm_zip)",
    xNameGap: 42.2, yNameGap: 41.7, xLabelMargin: 17.8, yLabelMargin: 14, yTickLen: 7.5,
  });
  series.push(scatter(p4, [...lonBand, ...lonBandUpper, ...lonBandLower, ...lonEdge, ...lonCloud, ...lonCloudDense]));

  // 5: sst
  const p5 = addFrame({
    box: { l: 394, r: 638.3, t: 226, b: 354 }, showBox: true,
    xr: [22.82, 30.29], yr: RESID_RANGE, xt: [23, 30, 1], yt: [0, 8, 2],
    xName: "dat3$sst", yName: "residuals(fm_zip)",
    xNameGap: 42.8, yNameGap: 40.8, xLabelMargin: 17.8, yLabelMargin: 14, yTickLen: 7.5,
  });
  series.push(scatter(p5, [...sstBand, ...sstBandUpper, ...sstBandLower, ...sstLeft, ...sstCloud, ...sstCloudDense, ...sstUpper]));

  // 6: hk_bt_flt
  const p6 = addFrame({
    box: { l: 720, r: 963.3, t: 226.5, b: 354 }, showBox: true,
    xr: [19.12, 43.8], yr: RESID_RANGE, xt: [20, 40, 5], yt: [0, 8, 2],
    xName: "dat3$hk_bt_flt", yName: "residuals(fm_zip)",
    xNameGap: 43.5, yNameGap: 43, xLabelMargin: 17.8, yLabelMargin: 14, yTickLen: 7.5,
  });
  const hkPoints: number[][] = [];
  hkLevels.forEach((lvl, i) => hkResiduals[i].forEach((r) => hkPoints.push([lvl, r])));
  series.push(scatter(p6, hkPoints));

  // 7: dnsm
  const p7 = addFrame({
    box: { l: 67.7, r: 313.3, t: 434, b: 560 }, showBox: true,
    xr: [-6.07, 173.6], yr: RESID_RANGE, xt: [0, 150, 50], yt: [0, 8, 2],
    xName: "dat3$dnsm", yName: "residuals(fm_zip)",
    xNameGap: 41.8, yNameGap: 42, xLabelMargin: 19.2, yLabelMargin: 14, yTickLen: 7.5,
  });
  series.push(scatter(p7, [...dnsmBand, ...dnsmBandUpper, ...dnsmTail, ...dnsmCloud, ...dnsmCloudDense, ...dnsmUpper]));

  return {
    animation: false,
    backgroundColor: "#fff",
    textStyle: { fontFamily: FONT },
    grid,
    xAxis,
    yAxis,
    series,
    graphic: [
      {
        type: "text",
        x: 516.4,
        y: 16,
        style: {
          text: "Histogram of fm_zip$residuals",
          fill: "#000",
          font: `bold 15.5px ${FONT}`,
          align: "center",
          verticalAlign: "middle",
        },
      },
    ],
  };
}

export default function App() {
  const ref = useRef<HTMLDivElement | null>(null);
  useEffect(() => {
    document.body.style.margin = "0";
    if (!ref.current) return;
    const chart = echarts.init(ref.current, undefined, { renderer: "svg" });
    chart.setOption(buildOption() as any);
    return () => chart.dispose();
  }, []);
  return (
    <div
      ref={ref}
      style={{ position: "absolute", left: 0, top: 0, width: 965, height: 633, background: "#fff" }}
    />
  );
}
